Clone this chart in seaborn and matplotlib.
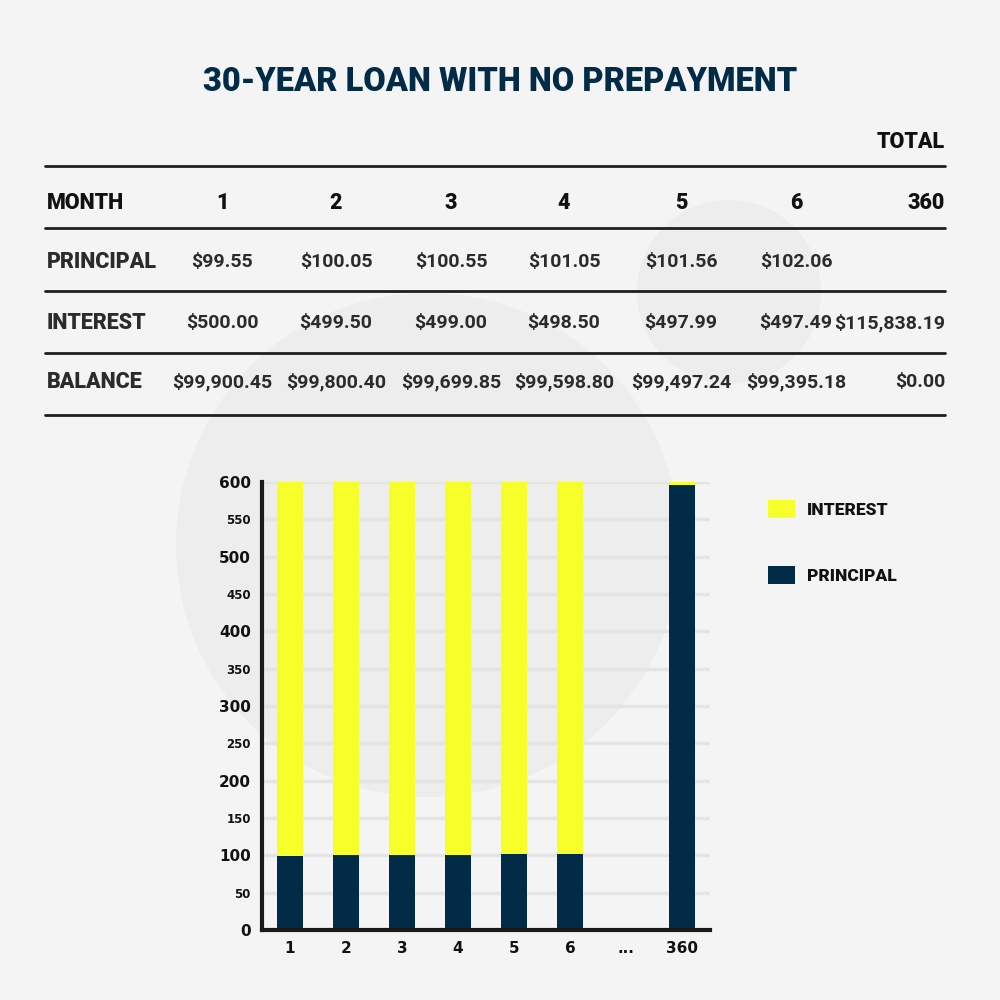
import matplotlib
matplotlib.use("Agg")
import matplotlib.pyplot as plt
import seaborn as sns
import pandas as pd
from matplotlib.patches import Circle, Patch
from matplotlib.lines import Line2D

# ---------------- data ----------------
bar_months = ["1", "2", "3", "4", "5", "6", "...", "360"]
bar_principal = [99.55, 100.05, 100.55, 101.05, 101.56, 102.06, 0.0, 596.57]
bar_interest = [500.00, 499.50, 499.00, 498.50, 497.99, 497.49, 0.0, 2.98]

table_months = ["1", "2", "3", "4", "5", "6"]
table_principal = [99.55, 100.05, 100.55, 101.05, 101.56, 102.06]
table_interest = [500.00, 499.50, 499.00, 498.50, 497.99, 497.49]
table_balance = [99900.45, 99800.40, 99699.85, 99598.80, 99497.24, 99395.18]
total_month = "360"
total_interest = 115838.19
final_balance = 0.00

title = "30-YEAR LOAN WITH NO PREPAYMENT"
yticks = [0, 50, 100, 150, 200, 250, 300, 350, 400, 450, 500, 550, 600]

# ---------------- style ----------------
BG = "#f4f4f4"
DECO = "#ededed"
NAVY = "#012b47"
YELLOW = "#f7ff2b"
DARK = "#2b2b2b"

sns.set_theme(style="white")
plt.rcParams["font.family"] = ["Roboto", "DejaVu Sans"]

fig = plt.figure(figsize=(10, 10), dpi=100, facecolor=BG)
W = H = 1000.0

def fx(x):
    return x / W

def fy(y):
    return 1 - y / H

# decorative circles
fig.add_artist(Circle((fx(428), fy(545)), 252 / W, transform=fig.transFigure,
                      color=DECO, zorder=0, lw=0))
fig.add_artist(Circle((fx(729), fy(292)), 92 / W, transform=fig.transFigure,
                      color=DECO, zorder=0, lw=0))

# title
fig.text(0.5, fy(82), title, ha="center", va="center", fontsize=23.5,
         fontweight="black", color=NAVY)

# ---------------- table ----------------
line_ys = [166, 228, 291, 353, 415]
for y in line_ys:
    fig.add_artist(Line2D([fx(45), fx(945)], [fy(y), fy(y)], transform=fig.transFigure,
                          color="#1e1e1e", lw=2))

col_x = [222, 336, 451, 564, 681, 796]
right_x = 945
label_x = 47
lfs = 15.5
vfs = 14

fig.text(fx(right_x), fy(142), "TOTAL", ha="right", va="center", fontsize=lfs,
         fontweight="black", color="#111111")

row_y = {"MONTH": 203, "PRINCIPAL": 262, "INTEREST": 323, "BALANCE": 382}
for lab, y in row_y.items():
    fig.text(fx(label_x), fy(y), lab, ha="left", va="center", fontsize=lfs,
             fontweight="black", color="#111111" if lab == "MONTH" else DARK)

def money(v):
    return "${:,.2f}".format(v)

for i, x in enumerate(col_x):
    fig.text(fx(x), fy(row_y["MONTH"]), table_months[i], ha="center", va="center",
             fontsize=lfs, fontweight="black", color="#111111")
    fig.text(fx(x), fy(row_y["PRINCIPAL"]), money(table_principal[i]), ha="center",
             va="center", fontsize=vfs, fontweight="bold", color=DARK)
    fig.text(fx(x), fy(row_y["INTEREST"]), money(table_interest[i]), ha="center",
             va="center", fontsize=vfs, fontweight="bold", color=DARK)
    fig.text(fx(x), fy(row_y["BALANCE"]), money(table_balance[i]), ha="center",
             va="center", fontsize=vfs, fontweight="bold", color=DARK)

fig.text(fx(right_x), fy(row_y["MONTH"]), total_month, ha="right", va="center",
         fontsize=lfs, fontweight="black", color="#111111")
fig.text(fx(right_x), fy(row_y["INTEREST"]), money(total_interest), ha="right",
         va="center", fontsize=vfs, fontweight="bold", color=DARK)
fig.text(fx(right_x), fy(row_y["BALANCE"]), money(final_balance), ha="right",
         va="center", fontsize=vfs, fontweight="bold", color=DARK)

# ---------------- chart ----------------
ax = fig.add_axes([fx(262), fy(930), (710 - 262) / W, (930 - 482) / H])
ax.set_facecolor("none")

df = pd.DataFrame({
    "month": bar_months,
    "principal": bar_principal,
    "interest": bar_interest,
})
df["total"] = df["principal"] + df["interest"]

sns.barplot(data=df, x="month", y="total", order=bar_months, color=YELLOW,
            width=0.48, saturation=1, linewidth=0, ax=ax, zorder=3)
sns.barplot(data=df, x="month", y="principal", order=bar_months, color=NAVY,
            width=0.48, saturation=1, linewidth=0, ax=ax, zorder=4)

ax.set_xlim(-0.5, 7.5)
ax.set_ylim(0, 600)
ax.set_yticks(yticks)
ax.set_xlabel("")
ax.set_ylabel("")
for y in yticks[1:]:
    ax.axhline(y, color="#e4e4e4", lw=2.5, zorder=1)

for s in ["top", "right"]:
    ax.spines[s].set_visible(False)
for s in ["left", "bottom"]:
    ax.spines[s].set_color("#1a1a1a")
    ax.spines[s].set_linewidth(3)
    ax.spines[s].set_zorder(5)

ax.tick_params(axis="both", length=0)
ax.tick_params(axis="y", pad=8)
ax.tick_params(axis="x", pad=8)
ax.set_yticklabels([str(v) for v in yticks])
for lab in ax.get_yticklabels():
    v = int(lab.get_text())
    lab.set_fontfamily("DejaVu Sans")
    lab.set_fontweight("bold")
    lab.set_color("#111111")
    lab.set_fontsize(11 if v % 100 == 0 else 8.5)
for lab in ax.get_xticklabels():
    lab.set_fontfamily("DejaVu Sans")
    lab.set_fontweight("bold")
    lab.set_color("#111111")
    lab.set_fontsize(11)

handles = [Patch(facecolor=YELLOW, edgecolor="none", label="INTEREST"),
           Patch(facecolor=NAVY, edgecolor="none", label="PRINCIPAL")]
leg = fig.legend(handles=handles, loc="upper left",
                 bbox_to_anchor=(fx(752), fy(484)), frameon=False,
                 prop={"family": "Roboto", "weight": "black", "size": 12.5},
                 handlelength=1.6, handleheight=1.25, labelspacing=2.75,
                 handletextpad=0.65)
for t in leg.get_texts():
    t.set_color("#111111")

fig.savefig("out.png", dpi=100, facecolor=BG)
